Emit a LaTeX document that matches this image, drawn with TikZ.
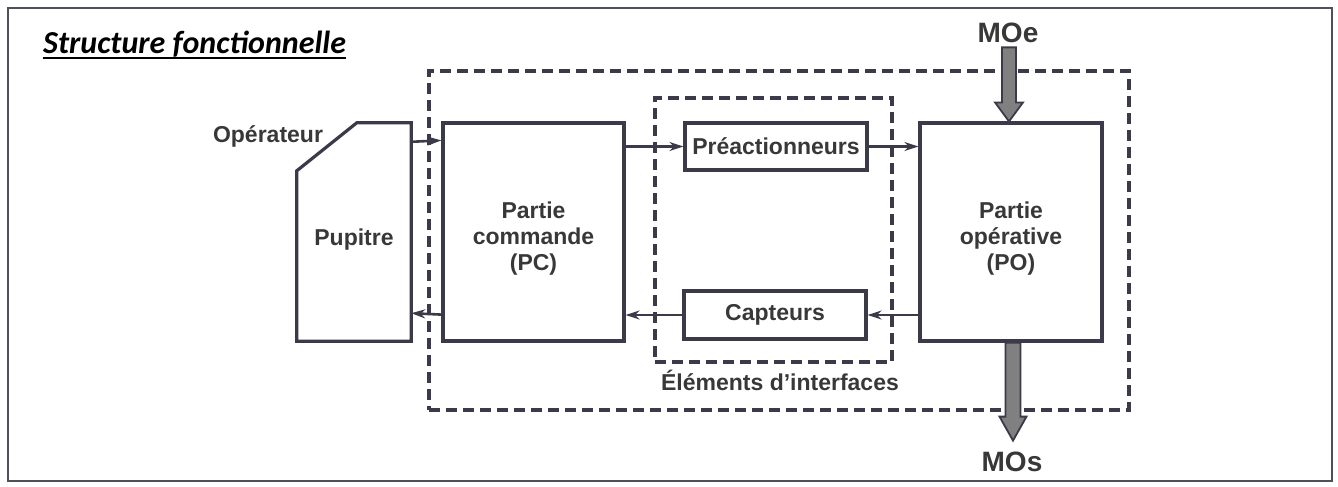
\documentclass[tikz,border=0pt]{standalone}
\usepackage{fontspec}
\setmainfont{Liberation Sans}
\newfontfamily\titlefont{Carlito}
\usetikzlibrary{arrows.meta,calc}
\definecolor{ink}{HTML}{3A3A48}
\definecolor{txt}{HTML}{383838}
\definecolor{arrowgray}{HTML}{808080}
\definecolor{frame}{HTML}{50505A}
\newcommand\lblfont{\fontsize{23}{26}\selectfont\bfseries}
\newcommand\bigfont{\fontsize{28}{30}\selectfont\bfseries}
\begin{document}
\begin{tikzpicture}[x=1pt,y=-1pt,
  box/.style={draw=ink,line width=3.2pt,inner sep=0pt,font=\lblfont,text=txt,align=center},
  lbl/.style={font=\lblfont,text=txt,align=center,inner sep=0pt},
  dbox/.style={draw=ink,line width=3.2pt,dash pattern=on 11pt off 6pt,inner sep=0pt},
  arr/.style={draw=ink,line width=2.6pt,-{Stealth[length=14pt,width=9pt]}},
  bigarr/.style={draw=ink,fill=arrowgray,line width=1.8pt,line join=miter}]
\useasboundingbox (0,0) rectangle (1338,487);
% outer frame
\draw[frame,line width=2pt] (8,8) rectangle (1332,481);
% title
\node[anchor=base west,inner sep=0pt,font=\titlefont\bfseries\itshape\fontsize{32}{36}\selectfont] (title) at (43,53) {Structure fonctionnelle};
\draw[line width=1.8pt] ([yshift=-5pt]title.base west) -- ([yshift=-5pt]title.base east);
% dashed boxes
\node[dbox,minimum width=700pt,minimum height=339pt] (sys) at (779,240.5) {};
\node[dbox,minimum width=237pt,minimum height=264pt] (ifc) at (773.5,230) {};
\node[lbl] (ifclbl) at (780,380) {Éléments d'interfaces};
% pupitre
\node[minimum width=114pt,minimum height=218pt,inner sep=0pt] (pup) at (354,232) {};
\draw[ink,line width=3.2pt,line join=miter] (pup.south west) -- ([yshift=-48pt]pup.north west) -- ([xshift=60pt]pup.north west) -- (pup.north east) -- (pup.south east) -- cycle;
\node[lbl] (puplbl) at ([yshift=-8pt]pup.center) {Pupitre};
\node[lbl] (oper) at (268,136) {Opérateur};
% main boxes
\node[box,minimum width=181pt,minimum height=218pt,label={[lbl,yshift=-7pt]center:Partie\\commande\\(PC)}] (pc) at (533.5,232) {};
\node[box,minimum width=182pt,minimum height=218pt,label={[lbl,yshift=-7pt]center:Partie\\opérative\\(PO)}] (po) at (1011,232) {};
\node[box,minimum width=182pt,minimum height=47pt] (pre) at (776,146.5) {Préactionneurs};
\node[box,minimum width=182pt,minimum height=48pt] (cap) at (775,315) {Capteurs};
% connectors
\draw[arr] ([yshift=-19pt]pup.north east) -- ([yshift=-19pt]pc.north west);
\draw[arr] (pc.east |- pre.west) -- (pre.west);
\draw[arr] (pre.east) -- (po.west |- pre.east);
\draw[arr] (po.west |- cap.east) -- (cap.east);
\draw[arr] (cap.west) -- (pc.east |- cap.west);
\draw[arr] ([yshift=28pt]pc.south west) -- ([yshift=28pt]pup.south east);
% MOe / MOs
\node[font=\bigfont,text=txt,inner sep=0pt] (moe) at (1008,33) {MOe};
\node[font=\bigfont,text=txt,inner sep=0pt] (mos) at (1012,462) {MOs};
\coordinate (moetip) at ([xshift=-2pt]po.north);
\draw[bigarr] (moetip) -- ++(14,-19) -- ++(-7,0) -- ++(0,-55) -- ++(-14,0) -- ++(0,55) -- ++(-7,0) -- cycle;
\coordinate (mostop) at ([xshift=2pt]po.south);
\draw[bigarr] ([xshift=-7.5pt]mostop) -- ++(15,0) -- ++(0,74) -- ++(6,0) -- ++(-13.5,24) -- ++(-13.5,-24) -- ++(6,0) -- cycle;
\end{tikzpicture}
\end{document}
